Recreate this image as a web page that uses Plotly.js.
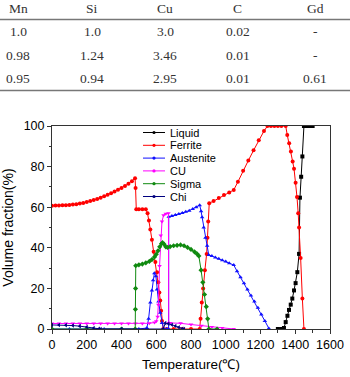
<!DOCTYPE html>
<html><head><meta charset="utf-8">
<script src="https://cdn.plot.ly/plotly-3.0.1.min.js"></script>
<style>html,body{margin:0;padding:0;background:#fff;}#chart{width:350px;height:377px;}</style>
</head><body><div id="chart"></div>
<script>
// ---- table data ----
const tableHeader = ['Mn','Si','Cu','C','Gd'];
const tableRows = [
  ['1.0','1.0','3.0','0.02','-'],
  ['0.98','1.24','3.46','0.01','-'],
  ['0.95','0.94','2.95','0.01','0.61']
];

// ---- series data (Temperature °C, Volume fraction %) ----
const liquidT = [1300,1320,1335,1345,1355,1364,1374,1383,1393,1402,1412,1422,1427,1434,1441,1450,1465,1480,1500];
const liquidV = [0,0,0.5,3.4,6.5,9.4,12,15,19,22.6,28,37,64.7,75,85,100,100,100,100];

const ferriteT = [0,20,40,60,80,100,120,140,160,180,200,220,240,260,280,300,320,340,360,380,400,420,440,460,478,481,485,500,520,540,550,558,566,575,585,595,605,612,618,623,628,633,640,660,700,750,800,850,855,862,870,880,890,895,899,905,930,960,990,1020,1046,1070,1100,1130,1160,1190,1220,1240,1260,1280,1300,1320,1345,1354,1365,1375,1385,1393,1402,1410,1417,1422,1431,1441,1450];
const ferriteV = [60.7,60.8,60.8,60.9,61.0,61.1,61.3,61.5,61.8,62.1,62.5,63.0,63.5,64.1,64.7,65.4,66.1,66.9,67.7,68.6,69.5,70.5,71.6,72.8,74.2,69.5,59,59,59,59,57,53.5,49,44,38,33,28,23,18,14,9,4,0,0,0,0,0,0,5,13,20,29,37,45,53,62,63,64.5,66,67.3,68.5,72.5,78,83,88,93,97.5,100,100,100,100,100,100,95.6,91.5,87.5,82.5,79,72,65,57,50,35,15,0];

const austeniteT = [0,100,200,300,400,500,546,556,566,575,582,589,598,604,613,623,633,642,660,671,672,690,710,730,750,770,790,810,830,850,858,864,873,883,893,902,920,940,960,980,1000,1020,1046,1065,1085,1105,1125,1145,1165,1185,1205,1225,1248];
const austeniteV = [0,0,0,0,0,0,0.5,5,13,19,24,27.5,26,19.4,13.5,8,3,0,0,0,55.3,55.7,56.1,56.6,57.1,57.7,58.3,59.1,60,61,58,55,50,45,41,36.5,35.9,35.2,34.6,33.9,33.2,32.4,31.5,28.5,25.5,22.5,19.5,16.5,13.5,10.5,7.2,4,0.3];

const cuT = [0,40,80,120,160,200,240,280,320,360,400,440,480,520,560,590,600,608,612,619,626,633,642,655,670,672,680,740,800,860,920,980,1046];
const cuV = [2.7,2.7,2.7,2.7,2.7,2.7,2.7,2.7,2.7,2.7,2.7,2.7,2.7,2.7,2.8,3.2,3.8,6,12,31,46,53,56,56.8,57,3.0,3.0,2.8,2.2,1.6,1.0,0.5,0];

const sigmaT = [0,200,400,479,480,481,482,500,520,540,560,575,590,600,610,620,630,636,645,655,665,680,700,720,740,760,780,800,820,835,845,858,868,878,888,896,903,950];
const sigmaV = [0,0,0,0,9.7,20,31.2,31.6,32.0,32.6,33.3,34.2,35.5,36.8,38.5,40.5,42,42.5,41.8,40.5,40.2,40.6,41,41.2,41.4,41.0,40.2,39.2,38,37,36,29,23,17,11,5,0,0];

const chiT = [0,40,80,120,160,200,240,270,280,400,640,652,670,690,710,730,750,760];
const chiV = [2.0,2.0,1.9,1.7,1.4,1.0,0.5,0.1,0,0,0,2.9,2.6,2.1,1.5,0.8,0.1,0];

const seriesNames = ['Liquid','Ferrite','Austenite','CU','Sigma','Chi'];
const seriesColors = ['#000000','#ff0000','#1010ff','#ff00ff','#108a10','#00007f'];
const seriesSymbols = ['square','circle','triangle-up','triangle-down','diamond','triangle-left'];
const seriesX = [liquidT, ferriteT, austeniteT, cuT, sigmaT, chiT];
const seriesY = [liquidV, ferriteV, austeniteV, cuV, sigmaV, chiV];

// ---- geometry helpers (pixel -> paper) ----
const W = 350, H = 377, ML = 52, MR = 20, MT = 126, MB = 48;
const PW = W - ML - MR, PH = H - MT - MB;
const px = x => (x - ML) / PW;
const py = y => (H - MB - y) / PH;

const SANS = '"Liberation Sans", Arial, sans-serif';
const SERIF = '"Liberation Serif", "Times New Roman", serif';

const traces = seriesNames.map((n, i) => ({
  type: 'scatter', mode: 'lines+markers', name: n,
  x: seriesX[i], y: seriesY[i],
  line: {color: seriesColors[i], width: 1},
  marker: {color: seriesColors[i], symbol: seriesSymbols[i], size: 4},
  showlegend: false
}));

const annotations = [];
const shapes = [];

// table
const colX = [18, 92, 165, 238, 315];
const rowY = [32, 55, 78];
const tFont = {family: SERIF, size: 13.5, color: '#333'};
tableHeader.forEach((h, c) => annotations.push({xref:'paper', yref:'paper', x: px(colX[c]), y: py(8), text: h, showarrow:false, xanchor:'center', yanchor:'middle', font: tFont}));
tableRows.forEach((row, r) => row.forEach((v, c) => annotations.push({xref:'paper', yref:'paper', x: px(colX[c]), y: py(rowY[r]), text: v, showarrow:false, xanchor:'center', yanchor:'middle', font: tFont})));
[19.5, 90.5].forEach(yy => shapes.push({type:'line', xref:'paper', yref:'paper', x0: px(0), x1: px(350), y0: py(yy), y1: py(yy), line:{color:'#777', width:1.5}}));

// legend (drawn manually to match compact spacing)
const legTop = 132.5, legStep = 12.8, legX0 = 143, legX1 = 165, legTextX = 168;
seriesNames.forEach((n, i) => {
  const yy = legTop + i * legStep;
  shapes.push({type:'line', xref:'paper', yref:'paper', x0: px(legX0), x1: px(legX1), y0: py(yy), y1: py(yy), line:{color: seriesColors[i], width:1}});
  shapes.push({type:'circle', xref:'paper', yref:'paper', x0: px(154-1.6), x1: px(154+1.6), y0: py(yy-1.6), y1: py(yy+1.6), fillcolor: seriesColors[i], line:{color: seriesColors[i], width:0}});
  annotations.push({xref:'paper', yref:'paper', x: px(legTextX), y: py(yy), text: n, showarrow:false, xanchor:'left', yanchor:'middle', font:{family: SANS, size:11, color:'#000'}});
});

const axisCommon = {
  showgrid: false, zeroline: false, showline: true, linecolor: '#333', linewidth: 1, mirror: true,
  ticks: 'outside', ticklen: 4, tickwidth: 1, tickcolor: '#333',
  tickfont: {family: SANS, size: 12.5, color: '#000'}
};

const layout = {
  width: W, height: H,
  margin: {l: ML, r: MR, t: MT, b: MB, pad: 0},
  paper_bgcolor: '#fff', plot_bgcolor: '#fff',
  showlegend: false,
  xaxis: Object.assign({}, axisCommon, {
    range: [0, 1600], tickmode: 'linear', tick0: 0, dtick: 200,
    minor: {dtick: 100, ticks: 'outside', ticklen: 2.5, tickcolor: '#333', showgrid: false},
    title: {text: 'Temperature(℃)', standoff: 8, font: {family: SANS, size: 13.5, color: '#000'}}
  }),
  yaxis: Object.assign({}, axisCommon, {
    range: [0, 100], tickmode: 'linear', tick0: 0, dtick: 20,
    minor: {dtick: 10, ticks: 'outside', ticklen: 2.5, tickcolor: '#333', showgrid: false},
    title: {text: 'Volume fraction(%)', standoff: 6, font: {family: SANS, size: 14, color: '#000'}}
  }),
  annotations: annotations,
  shapes: shapes
};

Plotly.newPlot('chart', traces, layout, {staticPlot: true, displayModeBar: false});
</script></body></html>
